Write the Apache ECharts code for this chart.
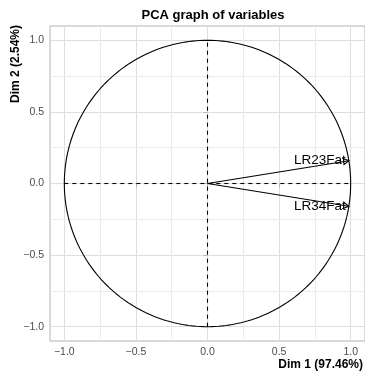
<!DOCTYPE html>
<html>
<head>
<meta charset="utf-8">
<script src="https://cdn.jsdelivr.net/npm/echarts@6/dist/echarts.min.js"></script>
<style>
html,body{margin:0;padding:0;background:#fff;}
#chart{width:365px;height:371px;}
</style>
</head>
<body>
<div id="chart"></div>
<script>
// ---- data ----
const chartTitle = 'PCA graph of variables';
const xAxisTitle = 'Dim 1 (97.46%)';
const yAxisTitle = 'Dim 2 (2.54%)';
const xTicks = [-1, -0.5, 0, 0.5, 1];
const yTicks = [-1, -0.5, 0, 0.5, 1];
const xMinorGrid = [-0.75, -0.25, 0.25, 0.75];
const yMinorGrid = [-0.75, -0.25, 0.25, 0.75];
const axisRange = [-1.1, 1.1];
const varNames = ['LR23Fat', 'LR34Fat'];
const dim1Coord = [0.987, 0.987];
const dim2Coord = [0.159, -0.159];
const refLines = [[-1, 0, 1, 0], [0, -1, 0, 1]];
const circleRadius = 1;

const FONT = '"Liberation Sans", Arial, sans-serif';
const fmt = v => (Math.abs(v) < 1e-9 ? 0 : v).toFixed(1).replace('-', '\u2212');

const chart = echarts.init(document.getElementById('chart'), null, {renderer: 'canvas'});

const gridLines = []
  .concat(xTicks.map(v => ({xAxis: v, lineStyle: {color: '#dedede', width: 1, type: 'solid'}})))
  .concat(yTicks.map(v => ({yAxis: v, lineStyle: {color: '#dedede', width: 1, type: 'solid'}})))
  .concat(xMinorGrid.map(v => ({xAxis: v, lineStyle: {color: '#ebebeb', width: 1, type: 'solid'}})))
  .concat(yMinorGrid.map(v => ({yAxis: v, lineStyle: {color: '#ebebeb', width: 1, type: 'solid'}})));

const option = {
  animation: false,
  title: {
    text: chartTitle,
    left: 208, top: 4, textAlign: 'center',
    textStyle: {fontFamily: FONT, fontSize: 13, fontWeight: 'bold', color: '#000'}
  },
  grid: {left: 50, top: 26, width: 316, height: 315, show: true,
         borderColor: '#b3b3b3', borderWidth: 1, backgroundColor: 'transparent'},
  xAxis: {
    type: 'value', min: axisRange[0], max: axisRange[1],
    axisLine: {show: false},
    axisTick: {show: true, inside: false, length: 4, customValues: xTicks,
               lineStyle: {color: '#b3b3b3', width: 1}},
    axisLabel: {show: true, customValues: xTicks, margin: 6, formatter: fmt,
                fontFamily: FONT, fontSize: 10.5, color: '#4d4d4d'},
    splitLine: {show: false}
  },
  yAxis: {
    type: 'value', min: axisRange[0], max: axisRange[1],
    axisLine: {show: false},
    axisTick: {show: true, inside: false, length: 4, customValues: yTicks,
               lineStyle: {color: '#b3b3b3', width: 1}},
    axisLabel: {show: true, customValues: yTicks, margin: 6, formatter: fmt,
                fontFamily: FONT, fontSize: 10.5, color: '#4d4d4d'},
    splitLine: {show: false}
  },
  graphic: [
    {type: 'text', x: 363, y: 365, z: 100,
     style: {text: xAxisTitle, align: 'right', verticalAlign: 'middle',
             fontFamily: FONT, fontSize: 12, fontWeight: 'bold', fill: '#000'}},
    {type: 'text', x: 16, y: 25, rotation: Math.PI / 2, z: 100,
     style: {text: yAxisTitle, align: 'right', verticalAlign: 'middle',
             fontFamily: FONT, fontSize: 12, fontWeight: 'bold', fill: '#000'}}
  ],
  series: [
    {
      type: 'line', z: 0, zlevel: 0, data: [[0, 0]], showSymbol: false, symbol: 'none',
      lineStyle: {opacity: 0}, silent: true,
      markLine: {silent: true, z: 0, symbol: ['none', 'none'], label: {show: false},
                 animation: false, data: gridLines}
    },
    {
      type: 'custom', z: 3, silent: true,
      data: refLines,
      renderItem: function (params, api) {
        const a = api.coord([api.value(0), api.value(1)]);
        const b = api.coord([api.value(2), api.value(3)]);
        return {type: 'line', shape: {x1: a[0], y1: a[1], x2: b[0], y2: b[1]},
                style: {stroke: '#000', lineWidth: 1.1, lineDash: [4, 4], fill: null}};
      }
    },
    {
      type: 'custom', z: 4, silent: true,
      data: [[0, 0, circleRadius]],
      renderItem: function (params, api) {
        const r = api.value(2);
        const pts = [];
        const n = 240;
        for (let i = 0; i <= n; i++) {
          const a = 2 * Math.PI * i / n;
          pts.push(api.coord([r * Math.cos(a), r * Math.sin(a)]));
        }
        return {type: 'polyline', shape: {points: pts},
                style: {stroke: '#000', lineWidth: 1.1, fill: null}};
      }
    },
    {
      type: 'custom', z: 5, silent: true,
      data: varNames.map((n, i) => [dim1Coord[i], dim2Coord[i]]),
      renderItem: function (params, api) {
        const o = api.coord([0, 0]);
        const e = api.coord([api.value(0), api.value(1)]);
        const ang = Math.atan2(e[1] - o[1], e[0] - o[0]);
        const L = 7, h = Math.PI / 6;
        const p1 = [e[0] - L * Math.cos(ang - h), e[1] - L * Math.sin(ang - h)];
        const p2 = [e[0] - L * Math.cos(ang + h), e[1] - L * Math.sin(ang + h)];
        const name = varNames[params.dataIndex];
        return {
          type: 'group',
          children: [
            {type: 'line', shape: {x1: o[0], y1: o[1], x2: e[0], y2: e[1]},
             style: {stroke: '#000', lineWidth: 1.1}},
            {type: 'polyline', shape: {points: [p1, e, p2]},
             style: {stroke: '#000', lineWidth: 1.1, fill: null}},
            {type: 'text', x: e[0] - 3, y: e[1],
             style: {text: name, align: 'right', verticalAlign: 'middle',
                     fontFamily: FONT, fontSize: 13.5, fill: '#000'}}
          ]
        };
      }
    }
  ]
};
chart.setOption(option);
</script>
</body>
</html>
